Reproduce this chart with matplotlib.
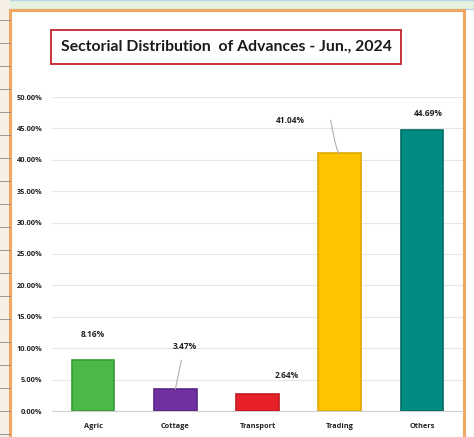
import matplotlib
matplotlib.use("Agg")
import matplotlib.pyplot as plt
from matplotlib.patches import Rectangle
from matplotlib.ticker import FuncFormatter, MultipleLocator

categories = ["Agric", "Cottage", "Transport", "Trading", "Others"]
values = [8.16, 3.47, 2.64, 41.04, 44.69]
colors = ["#4cb847", "#7030a0", "#e8202a", "#ffc400", "#008c83"]
title = "Sectorial Distribution  of Advances - Jun., 2024"

W, H = 474, 437
fig = plt.figure(figsize=(W / 100, H / 100), dpi=100)
fig.patch.set_facecolor("white")

def fx(px):
    return px / W

def fy(py):
    return 1 - py / H

# spreadsheet background pieces
fig.patches.append(Rectangle((0, fy(9)), 1, 9 / H, transform=fig.transFigure,
                             facecolor="#e6f1df", edgecolor="#b9d3e8", lw=1, zorder=0))
fig.patches.append(Rectangle((0, 0), fx(10), 1, transform=fig.transFigure,
                             facecolor="#f6efe6", edgecolor="none", zorder=0))
for ry in range(20, 437, 23):
    fig.lines.append(plt.Line2D([0, fx(10)], [fy(ry), fy(ry)], transform=fig.transFigure,
                                color="#888888", lw=0.6))
# chart area orange border
fig.patches.append(Rectangle((fx(10), fy(440)), fx(454), (430) / H, transform=fig.transFigure,
                             facecolor="white", edgecolor="#f0a860", lw=2.2, zorder=0.5))

FONT = ["Open Sans", "DejaVu Sans"]

ax = fig.add_axes([fx(52), fy(411), fx(411), (411 - 97) / H])
ax.set_zorder(2)
ax.patch.set_alpha(0)
x = list(range(len(categories)))
ax.bar(x, values, width=0.52, color=colors, edgecolor=[
    "#3a9a36", "#5a2585", "#c01a22", "#e0a800", "#006d66"], linewidth=1.2, zorder=3)
ax.set_xlim(-0.5, len(categories) - 0.5)
ax.set_ylim(0, 50)
ax.yaxis.set_major_locator(MultipleLocator(5))
ax.yaxis.set_major_formatter(FuncFormatter(lambda v, p: f"{v:.2f}%"))
ax.grid(axis="y", color="#e6e6e6", lw=0.8, zorder=0)
for s in ["top", "right", "left"]:
    ax.spines[s].set_visible(False)
ax.spines["bottom"].set_color("#d0d0d0")
ax.set_xticks(x)
ax.set_xticklabels(categories, fontsize=5.3, fontweight="bold", family=FONT, color="#222222")
ax.tick_params(axis="x", length=0, pad=9)
ax.tick_params(axis="y", length=0, pad=7, labelsize=5.3, labelcolor="#222222")
for t in ax.get_yticklabels():
    t.set_fontweight("bold")
    t.set_family(FONT)

lab_kw = dict(fontsize=6, fontweight="bold", family=FONT, color="#222222",
              ha="center", va="center")
line_kw = dict(arrowstyle="-", color="#b0b0b0", lw=0.8, shrinkA=0, shrinkB=0)
# data labels (offsets in data units)
ax.annotate(f"{values[0]:.2f}%", xy=(0, values[0]), xytext=(0, 12.2), **lab_kw)
ax.annotate(f"{values[1]:.2f}%", xy=(1, values[1]), xytext=(1.11, 10.3),
            arrowprops=dict(line_kw, shrinkA=5), **lab_kw)
ax.annotate(f"{values[2]:.2f}%", xy=(2, values[2]), xytext=(2.35, 5.6), **lab_kw)
ax.annotate("", xy=(3, values[3]), xytext=(2.89, 46.3),
            arrowprops=dict(line_kw, connectionstyle="angle3,angleA=100,angleB=20"))
ax.text(2.4, 46.2, f"{values[3]:.2f}%", **lab_kw)
ax.annotate(f"{values[4]:.2f}%", xy=(4, values[4]), xytext=(4.08, 47.4), **lab_kw)

# title with red box
fig.text(fx(226), fy(47), title, fontsize=11.3, fontweight="bold", family=["Lato", "DejaVu Sans"],
         color="#1a1a1a", ha="center", va="center", zorder=5,
         bbox=dict(boxstyle="square,pad=0.62", facecolor="white", edgecolor="#c8323a", lw=1.4))

fig.savefig("out.png", dpi=100)
